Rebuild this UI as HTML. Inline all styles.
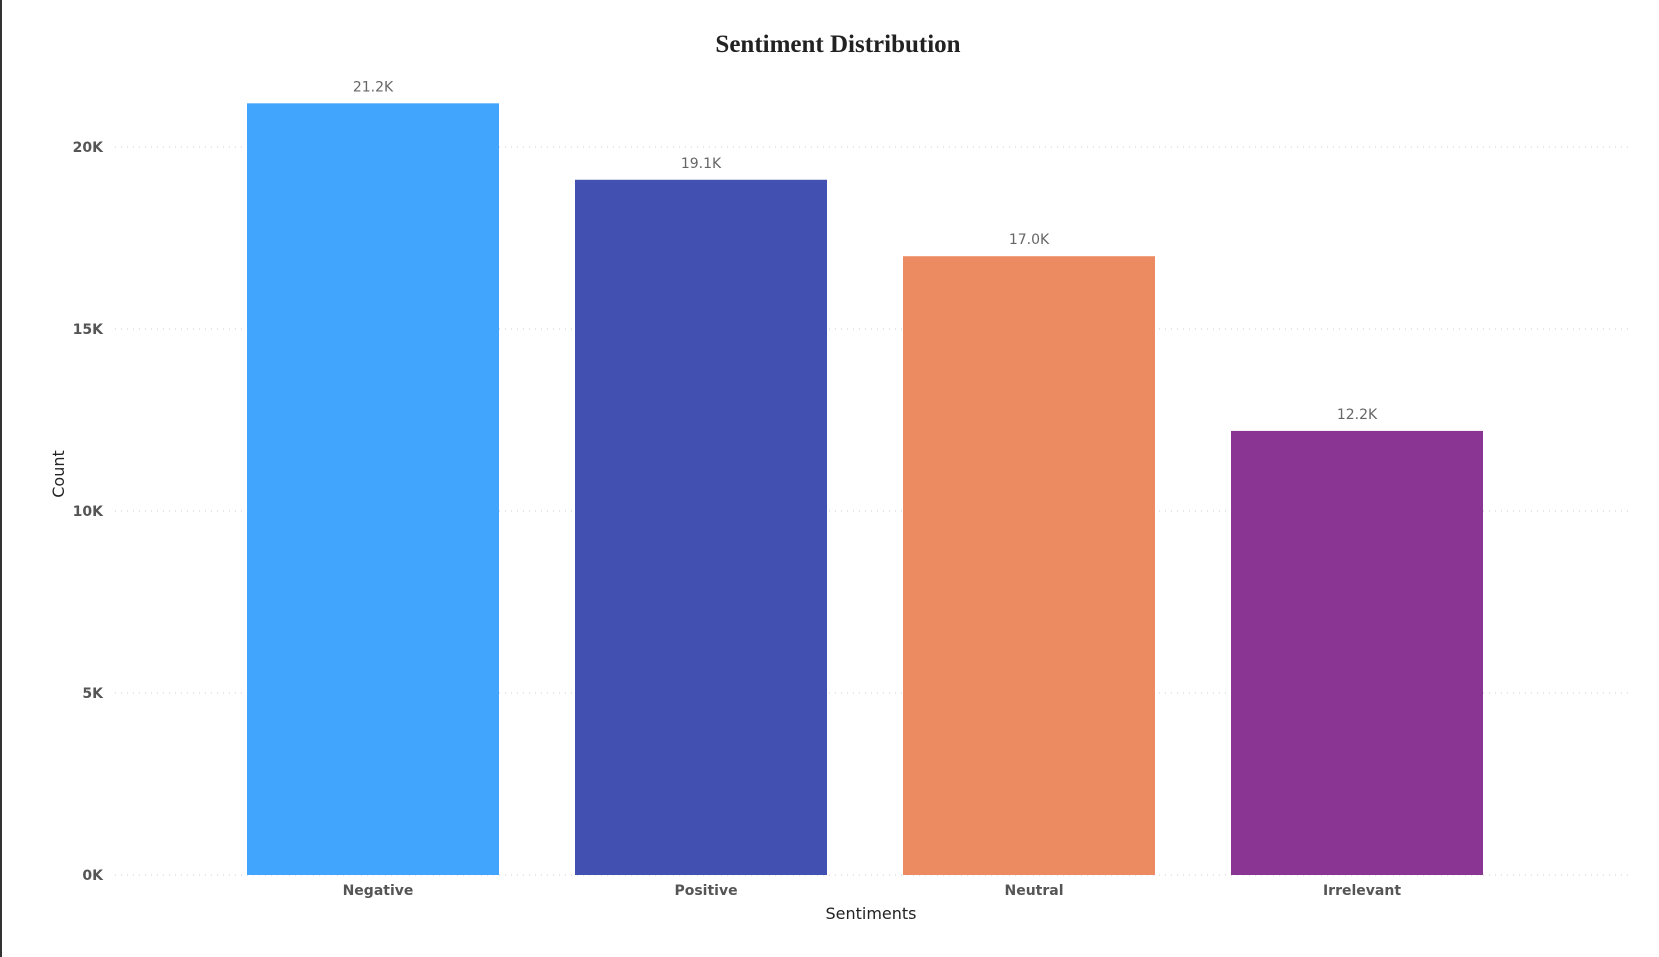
<!DOCTYPE html>
<html><head><meta charset="utf-8"><style>
body{margin:0;background:#fff;}
svg{display:block;font-family:"DejaVu Sans","Liberation Sans",sans-serif;}
</style></head><body>
<svg id="chart" width="1659" height="957" viewBox="0 0 1659 957" xmlns="http://www.w3.org/2000/svg">
<rect x="0" y="0" width="1659" height="957" fill="#fff"/>
<line x1="1" y1="0" x2="1" y2="957" stroke="#333" stroke-width="2"/>
<text x="838" y="52" text-anchor="middle" font-family="'Liberation Serif',serif" font-weight="bold" font-size="25" fill="#222">Sentiment Distribution</text>
<g id="grid"></g><g id="bars"></g>
<text x="871" y="919" text-anchor="middle" font-size="16" fill="#222">Sentiments</text>
<text transform="translate(64,474) rotate(-90)" text-anchor="middle" font-size="16" fill="#222">Count</text>
</svg>
<script>
const categories=["Negative","Positive","Neutral","Irrelevant"];
const values=[21200,19100,17000,12200];
const valueLabels=["21.2K","19.1K","17.0K","12.2K"];
const ticks=[0,5000,10000,15000,20000];
const tickLabels=["0K","5K","10K","15K","20K"];
const colors=["#41a5fe","#4250b1","#ec8b62","#8a3594"];
const NS="http://www.w3.org/2000/svg";
const y0=875,pxPer=(875-147)/20000;
const y=v=>y0-v*pxPer;
const x=i=>247+i*328, bw=252;
const grid=document.getElementById('grid'),bars=document.getElementById('bars');
function mk(t,a,p){const e=document.createElementNS(NS,t);for(const k in a)e.setAttribute(k,a[k]);p.appendChild(e);return e;}
ticks.forEach((t,i)=>{
 const l=mk('line',{x1:115,x2:1628,y1:y(t),y2:y(t),stroke:'#ccc','stroke-dasharray':'1 5'},grid);
 
 
 const tx=mk('text',{x:103,y:y(t)+5,'text-anchor':'end','font-size':'14','font-weight':'bold',fill:'#555'},grid);
 tx.textContent=tickLabels[i];
 
 
});
categories.forEach((c,i)=>{
 const r=mk('rect',{x:x(i),y:y(values[i]),width:bw,height:y0-y(values[i]),fill:colors[i]},bars);
 
 
 const v=mk('text',{x:x(i)+bw/2,y:y(values[i])-12,'text-anchor':'middle','font-size':'14',fill:'#666'},bars);
 v.textContent=valueLabels[i];
 
 
 const cl=mk('text',{x:x(i)+bw/2+5,y:895,'text-anchor':'middle','font-size':'14','font-weight':'bold',fill:'#555'},bars);
 cl.textContent=c;
 
 
});
</script>
</body></html>
